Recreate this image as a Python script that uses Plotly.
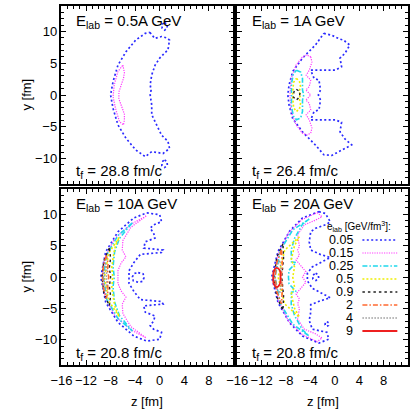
import plotly.graph_objects as go

FONT = "Liberation Sans, Arial, Helvetica, sans-serif"
W, H = 410, 411

# energy-density levels (GeV/fm^3) and their line styles
LEVELS = ["0.05", "0.15", "0.25", "0.5", "0.9", "2", "4", "9"]
LEVEL_COLORS = ["#2a2aff", "#ff3cff", "#1fd8ec", "#eeee00", "#222222", "#ff6a30", "#9a9a9a", "#ee2020"]
LEVEL_DASH = ["2px,2.4px", "1.2px,1.2px", "5px,2px,1.5px,2px", "2px,2px",
              "2.5px,3px", "5px,2px,1.5px,2px", "1.5px,1.5px", "solid"]
LEVEL_WIDTH = [1.7, 1.2, 1.6, 1.6, 1.4, 1.6, 1.3, 1.8]

ENERGIES = ["0.5A", "1A", "10A", "20A"]
FREEZE_TIMES = ["28.8", "26.4", "20.8", "20.8"]

X_TICKS = [-16, -12, -8, -4, 0, 4, 8]
Y_TICKS = [-10, -5, 0, 5, 10]

# ---- contour lines, (z, y) in fm ----
# E_lab = 0.5A GeV
E05_L005 = [(-1.6, 9.85), (-0.8, 8.9), (0.3, 9.2), (1.1, 9.0), (1.6, 8.65), (1.35, 7.1), (0.6, 6.4),
            (0.0, 5.8), (-0.75, 4.7), (-1.1, 3.9), (-1.3, 3.15), (-1.55, 1.6), (-1.4, 0.8), (-1.55, 0.0),
            (-1.3, -1.55), (-1.3, -3.1), (-0.5, -4.7), (0.3, -6.3), (1.35, -7.3), (1.6, -8.4),
            (0.55, -9.2), (-1.3, -8.9), (-2.35, -9.7), (-3.9, -8.65), (-5.5, -6.8), (-6.8, -4.7),
            (-7.6, -2.1), (-8.0, 0.0), (-7.6, 2.1), (-6.8, 4.7), (-5.5, 6.8), (-3.9, 8.65),
            (-2.35, 9.7), (-1.6, 9.85)]
E05_L005_TOP = [(0.8, 11.4), (1.25, 11.1), (1.2, 10.5), (0.8, 10.2), (0.4, 10.5), (0.35, 11.1), (0.8, 11.4)]
E05_L005_BOT = [(0.8, -10.2), (1.2, -10.5), (1.25, -11.1), (0.8, -11.4), (0.35, -11.1), (0.4, -10.5), (0.8, -10.2)]
E05_L015 = [(-6.0, 4.7), (-5.75, 3.5), (-5.9, 2.6), (-6.3, 1.6), (-6.65, 0.5), (-6.65, -0.6), (-6.15, -1.85),
            (-5.75, -3.0), (-5.75, -3.9), (-5.9, -4.7), (-6.55, -4.2), (-7.2, -2.1), (-7.6, -0.25),
            (-7.4, 1.6), (-6.8, 3.7), (-6.2, 4.6), (-6.0, 4.7)]

# E_lab = 1A GeV
E1_L005 = [(-1.8, 9.7), (-0.5, 9.4), (0.8, 8.8), (1.4, 8.65), (2.45, 7.85), (1.65, 6.55), (0.85, 5.8),
           (1.1, 4.45), (0.05, 3.9), (-1.5, 3.9), (-3.0, 3.9), (-3.95, 3.9), (-3.4, 2.6), (-2.6, 2.35),
           (-2.35, 0.8), (-2.7, 0.0), (-2.35, -0.8), (-2.6, -2.35), (-3.4, -2.6), (-3.95, -3.9),
           (-3.0, -3.9), (-1.5, -3.9), (0.05, -3.9), (1.1, -4.3), (0.85, -5.8), (1.65, -6.9),
           (2.75, -7.85), (-0.5, -9.5), (-1.8, -9.4), (-3.15, -7.9), (-5.3, -5.8), (-6.9, -3.7),
           (-7.5, -1.6), (-7.7, 0.0), (-7.5, 1.6), (-6.9, 3.7), (-5.3, 5.8), (-3.15, 7.9), (-1.8, 9.7)]
E1_L015 = [(-3.95, 6.0), (-3.75, 5.2), (-4.2, 3.9), (-4.7, 3.1), (-3.95, 2.35), (-4.2, 1.3), (-4.75, 0.8),
           (-3.95, 0.0), (-4.75, -0.8), (-4.2, -1.3), (-3.95, -2.35), (-4.7, -3.1), (-4.2, -3.9),
           (-3.75, -5.2), (-3.95, -6.0), (-4.6, -6.3), (-5.3, -6.0), (-6.35, -4.7), (-7.15, -2.6),
           (-7.35, 0.0), (-7.15, 2.6), (-6.35, 4.7), (-5.3, 6.0), (-4.6, 6.3), (-3.95, 6.0)]
E1_L025 = [(-6.3, 3.9), (-5.6, 3.6), (-5.3, 2.6), (-5.3, 0.8), (-5.1, 0.0), (-5.3, -0.8), (-5.3, -2.6),
           (-5.6, -3.6), (-6.3, -3.9), (-6.8, -3.3), (-7.1, -1.8), (-7.15, 0.0), (-7.1, 1.8), (-6.8, 3.3),
           (-6.3, 3.9)]
E1_L05 = [(-6.3, 2.6), (-5.8, 2.2), (-5.6, 1.2), (-5.9, 0.5), (-5.55, 0.0), (-5.9, -0.5), (-5.6, -1.2),
          (-5.8, -2.2), (-6.3, -2.6), (-6.75, -2.0), (-6.95, 0.0), (-6.75, 2.0), (-6.3, 2.6)]
E1_L09 = [(-6.3, 0.9), (-5.7, 0.5), (-5.8, -0.3), (-6.3, -0.8), (-6.8, -0.3), (-6.7, 0.5), (-6.3, 0.9)]

# E_lab = 10A GeV
E10_L005 = [(-2.1, 10.2), (-1.0, 10.0), (0.0, 9.9), (0.3, 8.8), (-1.0, 8.3), (-1.55, 7.75), (-1.0, 7.0),
            (-0.75, 6.2), (-2.35, 5.6), (-2.6, 4.6), (0.55, 4.3), (0.3, 3.9), (-3.15, 3.6), (-4.2, 2.3),
            (-5.0, 1.0), (-5.0, -1.0), (-4.2, -2.3), (-3.15, -3.6), (0.3, -3.9), (0.55, -4.3),
            (-2.6, -4.6), (-2.35, -5.6), (-0.75, -6.2), (-1.0, -7.0), (-1.55, -7.75), (-1.0, -8.3),
            (0.3, -8.8), (0.0, -9.9), (-1.0, -10.0), (-2.1, -10.2), (-4.2, -9.4), (-6.8, -7.2),
            (-8.8, -4.0), (-9.6, 0.0), (-8.8, 4.0), (-6.8, 7.2), (-4.2, 9.4), (-2.1, 10.2)]
E10_L005_LOOP = [(-3.5, 0.7), (-2.7, 0.5), (-2.55, -0.1), (-2.8, -0.7), (-3.5, -0.85), (-4.3, -0.6),
                 (-4.45, 0.0), (-4.2, 0.55), (-3.5, 0.7)]
E10_L015 = [(-2.2, 9.7), (-4.7, 8.4), (-7.35, 6.1), (-8.9, 3.2), (-9.35, 0.0), (-8.9, -3.2), (-7.35, -6.1),
            (-4.7, -8.4), (-2.2, -9.7), (-2.8, -9.3), (-4.7, -7.9), (-6.0, -5.8), (-6.1, -4.3),
            (-5.5, -3.2), (-6.3, -2.2), (-6.8, -1.0), (-6.8, 1.0), (-6.3, 2.2), (-5.5, 3.2), (-6.1, 4.3),
            (-6.0, 5.8), (-4.7, 7.9), (-2.8, 9.3), (-2.2, 9.7)]
E10_L025 = [(-4.45, 8.6), (-6.8, 6.6), (-8.6, 3.6), (-9.2, 0.0), (-8.6, -3.6), (-6.8, -6.6), (-4.45, -8.6),
            (-5.0, -8.0), (-6.55, -6.15), (-7.35, -4.0), (-7.6, -1.6), (-7.4, 0.0), (-7.6, 1.6),
            (-7.35, 4.0), (-6.55, 6.15), (-5.0, 8.0), (-4.45, 8.6)]
E10_L05 = [(-6.6, 6.3), (-8.3, 3.8), (-9.0, 0.0), (-8.3, -3.8), (-6.6, -6.3), (-7.2, -5.0), (-7.5, -3.6),
           (-7.8, -1.6), (-7.65, 0.0), (-7.8, 1.6), (-7.5, 3.6), (-7.2, 5.0), (-6.6, 6.3)]
E10_L09 = [(-8.2, 4.6), (-9.1, 2.6), (-9.4, 0.0), (-9.1, -2.6), (-8.2, -4.6), (-8.0, -3.0), (-8.2, -1.5),
           (-8.0, 0.0), (-8.2, 1.5), (-8.0, 3.0), (-8.2, 4.6)]
E10_L2 = [(-8.7, 3.4), (-9.2, 1.6), (-9.3, 0.0), (-9.2, -1.6), (-8.7, -3.4), (-8.4, -2.2), (-8.5, -1.0),
          (-8.3, 0.0), (-8.5, 1.0), (-8.4, 2.2), (-8.7, 3.4)]
E10_L4 = [(-8.8, 2.2), (-9.0, 1.0), (-9.05, 0.0), (-9.0, -1.0), (-8.8, -2.2), (-8.6, -1.2), (-8.7, 0.0),
          (-8.6, 1.2), (-8.8, 2.2)]

# E_lab = 20A GeV
E20_L005 = [(-2.6, 10.4), (-1.55, 10.1), (-0.75, 8.8), (-1.3, 8.4), (-3.15, 7.75), (-3.95, 7.2),
            (-4.2, 5.6), (-3.95, 4.3), (-2.4, 3.6), (-0.75, 3.1), (-3.7, 1.6), (-4.5, 0.6), (-4.5, -0.6),
            (-3.7, -1.8), (-0.75, -3.3), (-2.4, -3.8), (-3.95, -4.4), (-3.95, -5.6), (-4.2, -6.9),
            (-3.7, -8.3), (-1.3, -8.8), (-1.0, -9.9), (-2.6, -10.5), (-5.3, -9.4), (-7.4, -7.3),
            (-9.3, -4.1), (-10.35, 0.0), (-9.3, 4.1), (-7.4, 7.3), (-5.3, 9.4), (-2.6, 10.4)]
E20_L005_LOOP1 = [(-3.15, 0.6), (-2.7, 0.35), (-2.65, -0.2), (-3.1, -0.55), (-3.6, -0.3), (-3.6, 0.3),
                  (-3.15, 0.6)]
E20_L005_LOOP2 = [(-1.3, -7.1), (-1.0, -7.3), (-1.05, -7.7), (-1.35, -7.85), (-1.6, -7.6), (-1.55, -7.25),
                  (-1.3, -7.1)]
E20_L015 = [(-2.9, 10.25), (-2.1, 9.6), (-3.15, 9.05), (-5.0, 8.3), (-6.1, 6.7), (-5.8, 4.85), (-6.1, 4.3),
            (-5.8, 3.5), (-6.35, 2.7), (-4.75, 0.85), (-5.3, 0.0), (-4.75, -0.85), (-6.35, -2.7),
            (-5.8, -3.5), (-6.1, -4.3), (-5.8, -5.0), (-6.1, -6.7), (-5.0, -8.3), (-3.15, -9.05),
            (-2.1, -9.7), (-2.9, -10.3), (-5.4, -9.1), (-7.6, -7.0), (-9.2, -3.9), (-10.1, 0.0),
            (-9.2, 3.9), (-7.6, 7.0), (-5.4, 9.1), (-2.9, 10.25)]
E20_L025 = [(-4.2, 9.2), (-6.9, 7.5), (-8.9, 4.3), (-9.8, 0.0), (-8.9, -4.3), (-6.9, -7.5), (-4.2, -9.4),
            (-5.3, -8.4), (-6.6, -6.15), (-7.15, -4.3), (-7.1, -2.4), (-6.35, -2.3), (-7.5, -1.1),
            (-7.6, 0.0), (-7.5, 1.1), (-6.35, 2.3), (-7.1, 2.4), (-7.15, 4.3), (-6.6, 6.15), (-5.3, 8.4),
            (-4.2, 9.2)]
E20_L05 = [(-5.8, 6.4), (-8.2, 4.3), (-9.3, 0.0), (-8.2, -4.3), (-5.8, -6.4), (-6.6, -5.0), (-7.15, -2.7),
           (-6.6, -1.6), (-6.9, 0.0), (-6.6, 1.6), (-7.15, 2.7), (-6.6, 5.0), (-5.8, 6.4)]
E20_L09 = [(-8.5, 5.3), (-9.5, 3.2), (-10.0, 0.0), (-9.5, -3.2), (-8.5, -5.3), (-8.4, -3.0), (-8.7, 0.0),
           (-8.4, 3.0), (-8.5, 5.3)]
E20_L2 = [(-8.75, 4.3), (-9.5, 2.3), (-9.8, 0.0), (-9.5, -2.3), (-8.75, -4.3), (-8.6, -2.0), (-8.8, 0.0),
          (-8.6, 2.0), (-8.75, 4.3)]
E20_L4 = [(-9.0, 2.6), (-9.8, 1.3), (-10.0, 0.0), (-9.8, -1.3), (-9.0, -2.6), (-8.8, -1.0), (-8.9, 0.0),
          (-8.8, 1.0), (-9.0, 2.6)]
E20_L9 = [(-9.5, 1.45), (-9.0, 1.0), (-8.9, 0.0), (-9.0, -1.1), (-9.5, -1.6), (-10.0, -1.1), (-10.1, 0.0),
          (-10.0, 1.0), (-9.5, 1.45)]

# panel -> list of (level index, curve)
PANEL_CURVES = [
    [(0, E05_L005), (0, E05_L005_TOP), (0, E05_L005_BOT), (1, E05_L015)],
    [(0, E1_L005), (1, E1_L015), (2, E1_L025), (3, E1_L05), (4, E1_L09)],
    [(0, E10_L005), (0, E10_L005_LOOP), (1, E10_L015), (2, E10_L025), (3, E10_L05), (4, E10_L09),
     (5, E10_L2), (6, E10_L4)],
    [(0, E20_L005), (0, E20_L005_LOOP1), (0, E20_L005_LOOP2), (1, E20_L015), (2, E20_L025),
     (3, E20_L05), (4, E20_L09), (5, E20_L2), (6, E20_L4), (7, E20_L9)],
]

# panel frames in pixels: (left, right, top, bottom)
FRAMES = [(52, 229, 6, 184), (233, 409, 6, 184), (52, 229, 189, 365), (233, 409, 189, 365)]


def px(x):
    return x / W


def py(y):
    return 1 - y / H


fig = go.Figure()

for i, curves in enumerate(PANEL_CURVES):
    suffix = "" if i == 0 else str(i + 1)
    for lev, pts in curves:
        fig.add_trace(go.Scatter(
            x=[p[0] for p in pts], y=[p[1] for p in pts],
            xaxis="x" + suffix, yaxis="y" + suffix,
            mode="lines", showlegend=False, hoverinfo="skip",
            line=dict(color=LEVEL_COLORS[lev], width=LEVEL_WIDTH[lev], dash=LEVEL_DASH[lev],
                      shape="spline" if lev == 7 else "linear"),
        ))

layout = dict(
    width=W, height=H, margin=dict(l=0, r=0, t=0, b=0),
    paper_bgcolor="white", plot_bgcolor="white",
    font=dict(family=FONT, size=13, color="black"),
    showlegend=False,
)

axis_common = dict(
    showgrid=False, zeroline=False, showline=True, linecolor="black", linewidth=1.5,
    mirror="allticks", ticks="inside", ticklen=5, tickwidth=1, tickcolor="black",
    tickfont=dict(family=FONT, size=13, color="black"),
    minor=dict(ticks="inside", ticklen=3, tickwidth=1, tickcolor="black", dtick=1, tick0=0),
)

for i, (l, r, t, b) in enumerate(FRAMES):
    suffix = "" if i == 0 else str(i + 1)
    xa = dict(axis_common, domain=[px(l), px(r)], range=[-16, 11.99], tickmode="array",
              tickvals=X_TICKS, anchor="y" + suffix, showticklabels=(i >= 2), ticklabelstandoff=3)
    ya = dict(axis_common, domain=[py(b), py(t)], range=[-14, 14], tickmode="array",
              tickvals=Y_TICKS, anchor="x" + suffix, showticklabels=(i % 2 == 0))
    layout["xaxis" + suffix] = xa
    layout["yaxis" + suffix] = ya


def label(text, x, y, size, xanchor="center", yanchor="middle", angle=0):
    return dict(text=text, x=px(x), y=py(y), xref="paper", yref="paper",
                xanchor=xanchor, yanchor=yanchor, textangle=angle, showarrow=False,
                font=dict(family=FONT, size=size, color="black"))


annotations = []
for i, (l, r, t, b) in enumerate(FRAMES):
    annotations.append(label("E<sub>lab</sub> = " + ENERGIES[i] + " GeV", l + 13, t + 15, 15, "left"))
    annotations.append(label("t<sub>f</sub> = " + FREEZE_TIMES[i] + " fm/c", l + 13, b - 12, 15, "left"))

# axis titles
for yc in (95, 277):
    annotations.append(label("y [fm]", 15, yc, 13, angle=-90))
for xc in (140.5, 321):
    annotations.append(label("z [fm]", xc, 401, 13))

# legend for the energy-density levels
annotations.append(label("e<sub>lab</sub> [GeV/fm<sup>3</sup>]:", 358, 226, 10))
shapes = []
row_y = [240, 253, 266, 279, 292, 305, 318, 331]
for k, lev in enumerate(LEVELS):
    annotations.append(label(lev, 354, row_y[k], 12.5, "right"))
    shapes.append(dict(type="line", xref="paper", yref="paper", x0=px(362), x1=px(398),
                       y0=py(row_y[k]), y1=py(row_y[k]),
                       line=dict(color=LEVEL_COLORS[k], width=LEVEL_WIDTH[k], dash=LEVEL_DASH[k])))

layout["annotations"] = annotations
layout["shapes"] = shapes
fig.update_layout(**layout)

fig.write_html("out.html")
